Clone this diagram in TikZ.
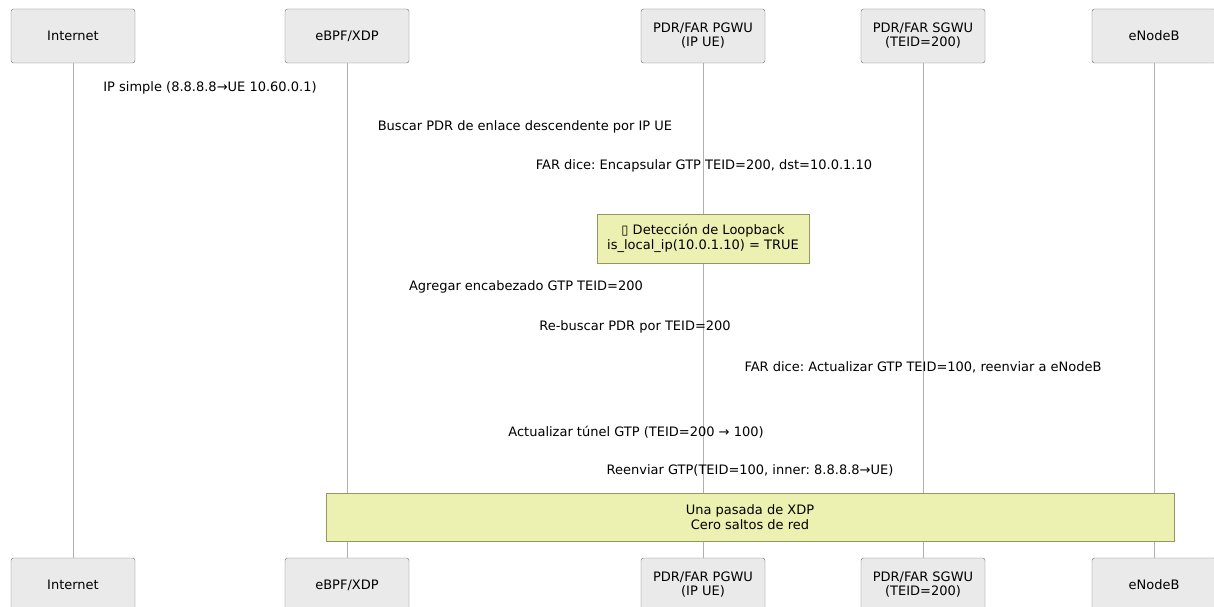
\documentclass[tikz,border=0pt]{standalone}
\usepackage{fontspec}
\setmainfont{DejaVu Sans}
\frenchspacing
\definecolor{partfill}{RGB}{234,234,234}
\definecolor{partdraw}{RGB}{110,110,110}
\definecolor{lifecol}{RGB}{175,175,175}
\definecolor{notefill}{RGB}{236,241,177}
\definecolor{notedraw}{RGB}{150,150,100}
\begin{document}
\frenchspacing
\begin{tikzpicture}[x=1pt,y=-1pt,
  part/.style={draw=partdraw,fill=partfill,rounded corners=2.5pt,minimum width=124pt,minimum height=54pt,inner sep=0pt,align=center,font=\fontsize{13}{14}\selectfont\frenchspacing},
  life/.style={draw=lifecol,line width=0.9pt},
  msg/.style={inner sep=0pt,font=\fontsize{13}{15}\selectfont\frenchspacing},
  notebox/.style={draw=notedraw,fill=notefill,inner sep=0pt,align=center,font=\fontsize{13}{15}\selectfont\frenchspacing},
]
\useasboundingbox (0,0) rectangle (1214,607);
\begin{scope}
\clip (0,0) rectangle (1214,607);
% top participants
\node[part] (inT) at (73,36) {Internet};
\node[part] (xdT) at (347,36) {eBPF/XDP};
\node[part] (pgT) at (703,36) {PDR/FAR PGWU\\(IP UE)};
\node[part] (sgT) at (923,36) {PDR/FAR SGWU\\(TEID=200)};
\node[part] (enT) at (1154,36) {eNodeB};
% bottom participants
\node[part] (inB) at (73,585) {Internet};
\node[part] (xdB) at (347,585) {eBPF/XDP};
\node[part] (pgB) at (703,585) {PDR/FAR PGWU\\(IP UE)};
\node[part] (sgB) at (923,585) {PDR/FAR SGWU\\(TEID=200)};
\node[part] (enB) at (1154,585) {eNodeB};
% lifelines
\draw[life] (inT.south) -- (inB.north);
\draw[life] (xdT.south) -- (xdB.north);
\draw[life] (pgT.south) -- (pgB.north);
\draw[life] (sgT.south) -- (sgB.north);
\draw[life] (enT.south) -- (enB.north);
\end{scope}
% message labels
\node[msg] (m1) at (210,88) {IP simple (8.8.8.8→UE 10.60.0.1)};
\node[msg] (m2) at (525,127) {Buscar PDR de enlace descendente por IP UE};
\node[msg] (m3) at (704,166) {FAR dice: Encapsular GTP TEID=200, dst=10.0.1.10};
\node[notebox,minimum width=212pt,minimum height=49pt] (n1) at (703,238.5) {▯ Detección de Loopback\\is\_local\_ip(10.0.1.10) = TRUE};
\node[msg] (m4) at (526,287) {Agregar encabezado GTP TEID=200};
\node[msg] (m5) at (635,327) {Re-buscar PDR por TEID=200};
\node[msg] (m6) at (923,367) {FAR dice: Actualizar GTP TEID=100, reenviar a eNodeB};
\node[msg] (m7) at (636,432) {Actualizar túnel GTP (TEID=200 → 100)};
\node[msg] (m8) at (750,470) {Reenviar GTP(TEID=100, inner: 8.8.8.8→UE)};
\node[notebox,minimum width=848pt,minimum height=48pt] (n2) at (750,517) {Una pasada de XDP\\Cero saltos de red};
\end{tikzpicture}
\end{document}
